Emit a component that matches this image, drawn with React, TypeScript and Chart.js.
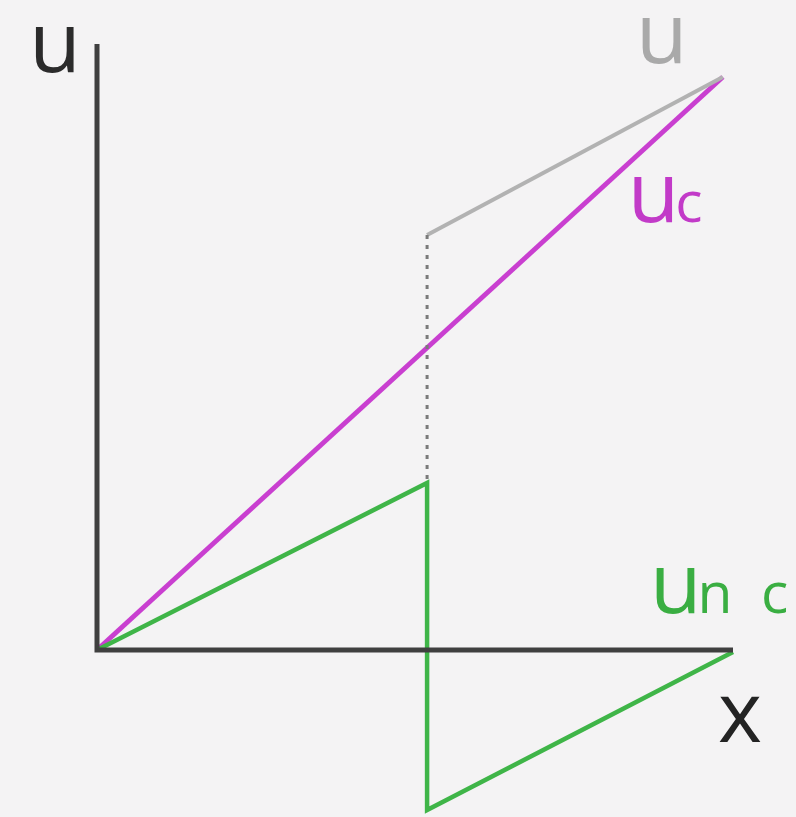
import React, { useEffect, useRef } from "react";
import { Chart, registerables } from "chart.js";

Chart.register(...registerables);

// Axes (drawn as a polyline: top of u-axis -> origin -> end of x-axis)
const axisX = [0, 0, 1.0];
const axisY = [6.06, 0, 0];

// u_c : straight line from the origin
const ucX = [0, 0.984];
const ucY = [0, 5.73];

// u : jumps up at x = 0.519 then rises to meet u_c
const uX = [0.519, 0.984];
const uY = [4.15, 5.73];

// dotted connector at the jump
const jumpX = [0.519, 0.519];
const jumpY = [4.15, 1.67];

// u_nc : saw-tooth, rises, drops below the axis, rises back to zero
const uncX = [0, 0.519, 0.519, 1.0];
const uncY = [0, 1.67, -1.6, -0.02];

const AXIS_COLOR = "#3f3f3f";
const UC_COLOR = "#c93fd0";
const U_COLOR = "#b2b2b2";
const UNC_COLOR = "#3fb548";

type Label = { main: string; sub?: string; x: number; y: number; color: string };

// label anchors in data units (x = centre of the main glyph, y = baseline)
const labels: Label[] = [
  { main: "u", x: -0.066, y: 5.78, color: "#2b2b2b" },
  { main: "u", x: 0.888, y: 5.87, color: "#a9a9a9" },
  { main: "u", sub: "c", x: 0.875, y: 4.28, color: "#c23ac8" },
  { main: "u", sub: "n\u2002c", x: 0.91, y: 0.37, color: "#3aae42" },
  { main: "x", x: 1.011, y: -0.92, color: "#232323" },
];

const pts = (xs: number[], ys: number[]) => xs.map((x, i) => ({ x, y: ys[i] }));

const labelPlugin = {
  id: "curveLabels",
  afterDatasetsDraw(chart: any) {
    const ctx = chart.ctx as CanvasRenderingContext2D;
    const sx = chart.scales.x;
    const sy = chart.scales.y;
    ctx.save();
    ctx.textBaseline = "alphabetic";
    for (const l of labels) {
      const px = sx.getPixelForValue(l.x);
      const py = sy.getPixelForValue(l.y);
      ctx.fillStyle = l.color;
      ctx.font = "500 84px 'Open Sans'";
      ctx.textAlign = "center";
      ctx.fillText(l.main, px, py);
      if (l.sub) {
        const w = ctx.measureText(l.main).width;
        ctx.font = "500 57px 'Open Sans'";
        ctx.textAlign = "left";
        ctx.fillText(l.sub, px + w / 2 - 4, py);
      }
    }
    ctx.restore();
  },
};

export default function App() {
  const ref = useRef<HTMLCanvasElement | null>(null);

  useEffect(() => {
    const canvas = ref.current;
    if (!canvas) return;
    const line = (data: any[], color: string, width: number, extra: any = {}) => ({
      data,
      borderColor: color,
      borderWidth: width,
      pointRadius: 0,
      fill: false,
      tension: 0,
      clip: false,
      borderCapStyle: "butt",
      borderJoinStyle: "miter",
      ...extra,
    });
    const chart = new Chart(canvas, {
      type: "line",
      data: {
        datasets: [
          line(pts(jumpX, jumpY), "#7a7a7a", 3, { borderDash: [4, 6] }),
          line(pts(uX, uY), U_COLOR, 4),
          line(pts(axisX, axisY), AXIS_COLOR, 5),
          line(pts(uncX, uncY), UNC_COLOR, 4.5),
          line(pts(ucX, ucY), UC_COLOR, 5),
        ] as any,
      },
      options: {
        animation: false,
        responsive: false,
        events: [],
        layout: { padding: { left: 97, right: 63, top: 44, bottom: 5 } },
        plugins: { legend: { display: false }, tooltip: { enabled: false } },
        scales: {
          x: { type: "linear", min: 0, max: 1, display: false },
          y: { type: "linear", min: -1.62, max: 6.06, display: false },
        },
      },
      plugins: [labelPlugin],
    });
    return () => chart.destroy();
  }, []);

  return (
    <div
      style={{
        position: "fixed",
        left: 0,
        top: 0,
        width: 796,
        height: 817,
        background: "#f4f3f4",
      }}
    >
      <canvas ref={ref} width={796} height={817} style={{ display: "block" }} />
    </div>
  );
}
